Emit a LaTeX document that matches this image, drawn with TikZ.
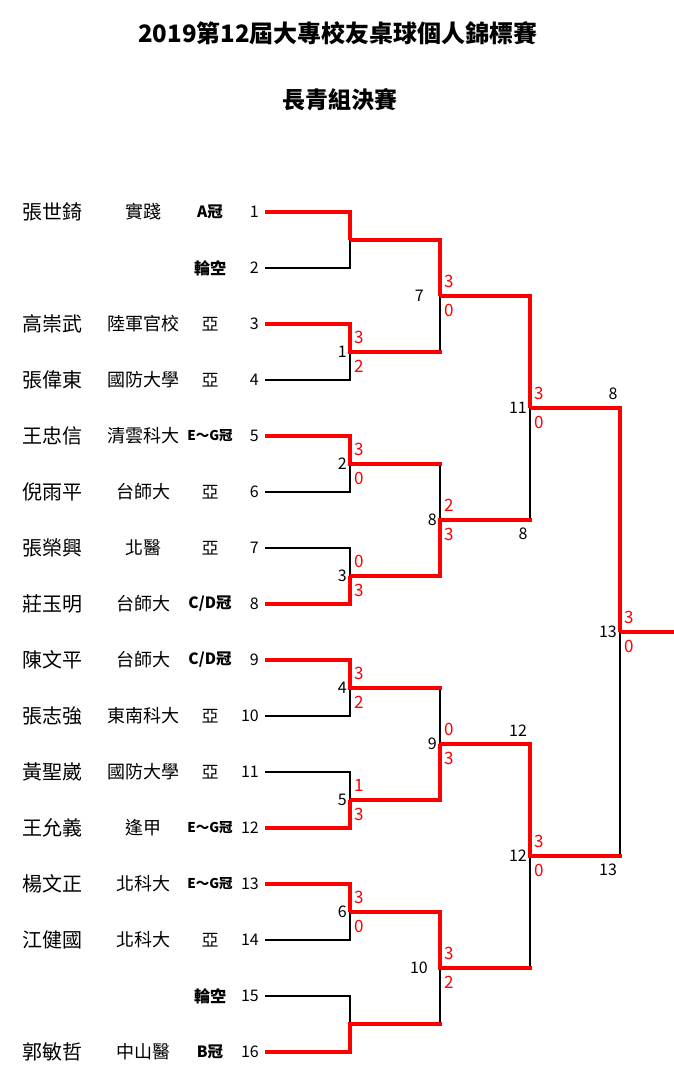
\documentclass[tikz,border=0pt]{standalone}
\usepackage{fontspec}
\setmainfont{Noto Sans CJK TC}
\tikzset{
  pname/.style={font=\fontsize{20}{20}\selectfont, inner sep=0pt},
  school/.style={font=\fontsize{18}{18}\selectfont, inner sep=0pt},
  seedlbl/.style={font=\fontsize{15.5}{15.5}\selectfont, inner sep=0pt},
  pnum/.style={font=\fontsize{16}{16}\selectfont, inner sep=0pt, anchor=east},
  mnum/.style={font=\fontsize{16}{16}\selectfont, inner sep=0pt, anchor=east},
  nextlbl/.style={font=\fontsize{16}{16}\selectfont, inner sep=0pt},
  score/.style={font=\fontsize{17}{17}\selectfont, inner sep=0pt, anchor=west, text=red},
  titlelbl/.style={font=\fontsize{24}{24}\selectfont\bfseries, inner sep=0pt},
  win/.style={draw=red, line width=3.3pt},
  winh/.style={draw=red, line width=3.3pt, line cap=rect},
  lose/.style={draw=black, line width=2.2pt}
}
\newcommand\playerrow[4]{%
  \pgfmathsetmacro\py{212+56*(#1-1)}%
  \node[pname] (nm#1) at (52,\py) {#2};
  \node[school] (sc#1) at (143,\py) {#3};
  \node[seedlbl] (sd#1) at (210,\py) {#4};
  \node[pnum] (n#1) at (259,\py) {#1};
  \coordinate (s#1) at (265,\py);
}
\newcommand\scorepair[3]{%
  \node[score] (#1u) at ([shift={(4pt,14.5pt)}]#1) {#2};
  \node[score] (#1d) at ([shift={(4pt,-14.5pt)}]#1) {#3};
}
\newcommand\sya{\fontsize{17}{17}\selectfont 亞}
\newcommand\sbye{\bfseries\fontsize{16}{16}\selectfont 輪空}
\newcommand\seg{\bfseries\fontsize{13.5}{13.5}\selectfont E～G冠}
\begin{document}
\begin{tikzpicture}[x=1pt,y=-1pt]
\useasboundingbox (0,0) rectangle (674,1081);
\fill[white] (0,0) rectangle (674,1081);

\node[titlelbl] (t1) at (338,33) {2019第12屆大專校友桌球個人錦標賽};
\node[titlelbl, font=\fontsize{23}{23}\selectfont\bfseries] (t2) at (340,100) {長青組決賽};

\playerrow{1}{張世錡}{實踐}{\bfseries A冠}
\playerrow{2}{}{}{\sbye}
\playerrow{3}{高崇武}{陸軍官校}{\sya}
\playerrow{4}{張偉東}{國防大學}{\sya}
\playerrow{5}{王忠信}{清雲科大}{\seg}
\playerrow{6}{倪雨平}{台師大}{\sya}
\playerrow{7}{張榮興}{北醫}{\sya}
\playerrow{8}{莊玉明}{台師大}{\bfseries C/D冠}
\playerrow{9}{陳文平}{台師大}{\bfseries C/D冠}
\playerrow{10}{張志強}{東南科大}{\sya}
\playerrow{11}{黃聖崴}{國防大學}{\sya}
\playerrow{12}{王允義}{逢甲}{\seg}
\playerrow{13}{楊文正}{北科大}{\seg}
\playerrow{14}{江健國}{北科大}{\sya}
\playerrow{15}{}{}{\sbye}
\playerrow{16}{郭敏哲}{中山醫}{\bfseries B冠}

% junctions
\coordinate (a1) at (350,240);
\coordinate (a2) at (350,352);
\coordinate (a3) at (350,464);
\coordinate (a4) at (350,576);
\coordinate (a5) at (350,688);
\coordinate (a6) at (350,800);
\coordinate (a7) at (350,912);
\coordinate (a8) at (350,1024);
\coordinate (b1) at (440,296);
\coordinate (b2) at (440,520);
\coordinate (b3) at (440,744);
\coordinate (b4) at (440,968);
\coordinate (c1) at (530,408);
\coordinate (c2) at (530,856);
\coordinate (d1) at (620,632);
\coordinate (e1) at (674,632);

% losing paths (black)
\draw[lose] (s2) -| (a1);
\draw[lose] (s4) -| (a2);
\draw[lose] (s6) -| (a3);
\draw[lose] (s7) -| (a4);
\draw[lose] (s10) -| (a5);
\draw[lose] (s11) -| (a6);
\draw[lose] (s14) -| (a7);
\draw[lose] (s15) -| (a8);
\draw[lose] (a2 -| b1) -- (b1);
\draw[lose] (a3 -| b2) -- (b2);
\draw[lose] (a5 -| b3) -- (b3);
\draw[lose] (a8 -| b4) -- (b4);
\draw[lose] (b2 -| c1) -- (c1);
\draw[lose] (b4 -| c2) -- (c2);
\draw[lose] (c2 -| d1) -- (d1);

% winning paths (red)
\draw[win] (s1) -| (a1);
\draw[win] (s3) -| (a2);
\draw[win] (s5) -| (a3);
\draw[win] (s8) -| (a4);
\draw[win] (s9) -| (a5);
\draw[win] (s12) -| (a6);
\draw[win] (s13) -| (a7);
\draw[win] (s16) -| (a8);
\draw[win] (a1) -| (b1);
\draw[win] (a4) -| (b2);
\draw[win] (a6) -| (b3);
\draw[win] (a7) -| (b4);
\draw[winh] (a2) -- (a2 -| b1);
\draw[winh] (a3) -- (a3 -| b2);
\draw[winh] (a5) -- (a5 -| b3);
\draw[winh] (a8) -- (a8 -| b4);
\draw[win] (b1) -| (c1);
\draw[win] (b3) -| (c2);
\draw[winh] (b2) -- (b2 -| c1);
\draw[winh] (b4) -- (b4 -| c2);
\draw[win] (c1) -| (d1);
\draw[winh] (c2) -- (c2 -| d1);
\draw[win] (d1) -- (e1);

% match numbers
\node[mnum] (m1) at (347,352) {1};
\node[mnum] (m2) at (347,464) {2};
\node[mnum] (m3) at (347,576) {3};
\node[mnum] (m4) at (347,688) {4};
\node[mnum] (m5) at (347,800) {5};
\node[mnum] (m6) at (347,912) {6};
\node[mnum] (m7) at (424,296) {7};
\node[mnum] (m8) at (437,520) {8};
\node[mnum] (m9) at (437,744) {9};
\node[mnum] (m10) at (428,968) {10};
\node[mnum] (m11) at (527,408) {11};
\node[mnum] (m12) at (527,856) {12};
\node[mnum] (m13) at (617,632) {13};

% next-match labels
\node[nextlbl] (x1) at (613,394) {8};
\node[nextlbl] (x2) at (523,534) {8};
\node[nextlbl] (x3) at (518,731) {12};
\node[nextlbl] (x4) at (608,870) {13};

% scores
\scorepair{a2}{3}{2}
\scorepair{a3}{3}{0}
\scorepair{a4}{0}{3}
\scorepair{a5}{3}{2}
\scorepair{a6}{1}{3}
\scorepair{a7}{3}{0}
\scorepair{b1}{3}{0}
\scorepair{b2}{2}{3}
\scorepair{b3}{0}{3}
\scorepair{b4}{3}{2}
\scorepair{c1}{3}{0}
\scorepair{c2}{3}{0}
\scorepair{d1}{3}{0}
\end{tikzpicture}
\end{document}
